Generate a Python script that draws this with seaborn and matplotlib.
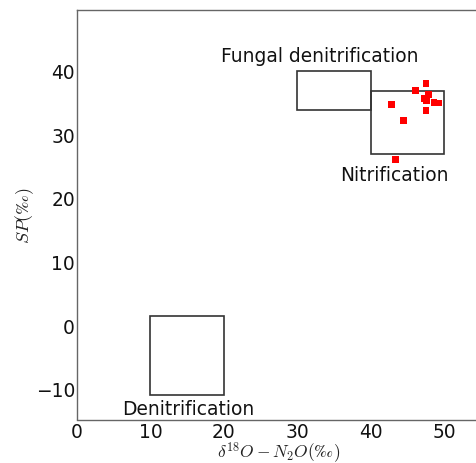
import matplotlib
matplotlib.use("Agg")
import matplotlib.pyplot as plt
from matplotlib.patches import Rectangle
import seaborn as sns
import pandas as pd

# sample points
d18O = [47.5, 46.1, 47.8, 47.3, 47.6, 48.6, 49.2, 42.8, 47.5, 44.5, 43.4]
sp = [37.9, 36.8, 36.2, 35.6, 35.2, 35.0, 34.9, 34.7, 33.7, 32.1, 26.0]

# source boxes: name, x0, x1, y0, y1
box_names = ["Denitrification", "Fungal denitrification", "Nitrification"]
box_x0 = [10, 30, 40]
box_x1 = [20, 40, 50]
box_y0 = [-11, 33.8, 26.9]
box_y1 = [1.4, 40, 36.8]
label_x = [15.2, 33.1, 43.2]
label_y = [-13.0, 42.3, 23.7]

sns.set_style("white")
plt.rcParams["font.family"] = ["DejaVu Sans"]
plt.rcParams["mathtext.fontset"] = "cm"

fig = plt.figure(figsize=(4.77, 4.64), dpi=100)
ax = fig.add_axes([77 / 477, 1 - 420.5 / 464, (481 - 77) / 477, (420.5 - 11) / 464])

df = pd.DataFrame({"x": d18O, "y": sp})
sns.scatterplot(data=df, x="x", y="y", marker="s", color="#ff0000",
                edgecolor="none", s=24, ax=ax, zorder=3)

for name, x0, x1, y0, y1, lx, ly in zip(box_names, box_x0, box_x1, box_y0, box_y1, label_x, label_y):
    ax.add_patch(Rectangle((x0, y0), x1 - x0, y1 - y0, fill=False,
                           edgecolor="#333333", linewidth=1.2, zorder=2))
    ax.text(lx, ly, name, ha="center", va="center", fontsize=13.4, color="#111111")

ax.set_xlim(0, 55)
ax.set_ylim(-14.8, 49.5)
ax.set_xticks([0, 10, 20, 30, 40, 50])
ax.set_yticks([-10, 0, 10, 20, 30, 40])
ax.tick_params(direction="in", length=3, width=0.6, colors="#888888",
               labelcolor="#111111", labelsize=13.4, pad=1.5)
for s in ax.spines.values():
    s.set_color("#666666")
    s.set_linewidth(1.0)

ax.set_xlabel(r"$\delta^{18}O - N_2O(‰)$", fontsize=12.5, labelpad=-1, color="#222222")
ax.set_ylabel(r"$SP(‰)$", fontsize=13, labelpad=0, color="#222222")

fig.savefig("out.png", dpi=100)
